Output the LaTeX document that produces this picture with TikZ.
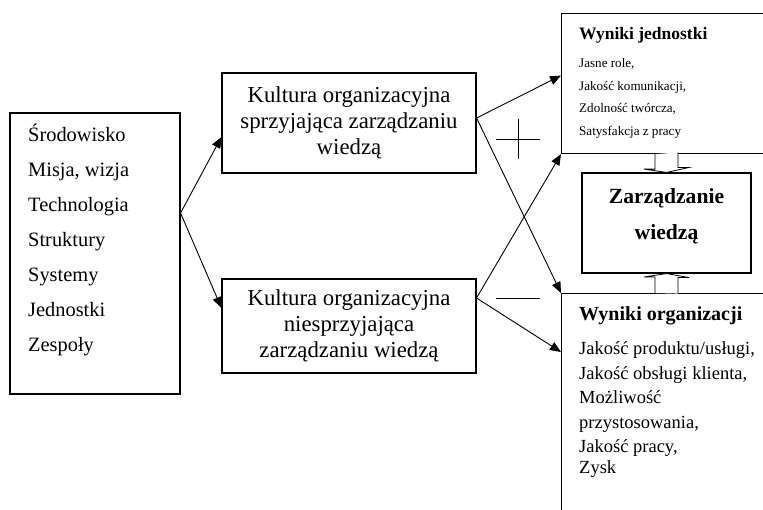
\documentclass[tikz,border=0pt]{standalone}
\usepackage{fontspec}
\setmainfont{Liberation Serif}
\usetikzlibrary{arrows.meta,calc}
\tikzstyle{box}=[draw,line width=1.1pt,inner sep=0pt]
\tikzstyle{txt}=[align=left,inner sep=0pt,anchor=north west]
\tikzstyle{link}=[draw,line width=0.9pt,-{Triangle[length=11pt,width=9pt]}]
\tikzstyle{hollow}=[draw,line width=0.8pt,fill=white]

\begin{document}
\begin{tikzpicture}[x=1pt,y=-1pt]
    \path[use as bounding box,clip] (0,0) rectangle (763,509);
    % ramki
    \node[box,minimum width=170pt,minimum height=281pt] (env) at (95,253.5) {};
    \node[txt,font=\fontsize{20.4}{35}\selectfont] (envtxt) at (28,124) {Środowisko\\Misja, wizja\\Technologia\\Struktury\\Systemy\\Jednostki\\Zespoły};
    \node[box,minimum width=254pt,minimum height=100pt,align=center,font=\fontsize{22.8}{26}\selectfont] (kpos) at (349,123) {Kultura organizacyjna\\sprzyjająca zarządzaniu\\wiedzą};
    \node[box,minimum width=254pt,minimum height=94pt,align=center,font=\fontsize{22.8}{26}\selectfont] (kneg) at (349,326) {Kultura organizacyjna\\niesprzyjająca\\zarządzaniu wiedzą};
    \node[box,anchor=north west,minimum width=260pt,minimum height=140pt] (jedn) at (561,13) {};
    \node[txt,font=\fontsize{13.1}{22.5}\selectfont] (jedntxt) at (579,27) {{\fontsize{17.5}{22}\selectfont\bfseries Wyniki jednostki}\\[6pt]Jasne role,\\Jakość komunikacji,\\Zdolność twórcza,\\Satysfakcja z pracy};
    \node[box,minimum width=169pt,minimum height=100pt,align=center,text depth=18pt,font=\fontsize{21.6}{36}\selectfont\bfseries] (zarz) at (666.5,223) {Zarządzanie\\wiedzą};
    \node[box,anchor=north west,minimum width=260pt,minimum height=260pt] (org) at (561,293) {};
    \node[txt,font=\fontsize{18.5}{24.5}\selectfont] (orgtxt) at (579,306) {{\fontsize{20}{24.5}\selectfont\bfseries Wyniki organizacji}\\[10pt]Jakość produktu/usługi,\\Jakość obsługi klienta,\\Możliwość\\przystosowania,\\Jakość pracy,\\[-4pt]Zysk};
    % strzalki
    \path[link] ([yshift=40.5pt]env.east) -- ([yshift=-14pt]kpos.west);
    \path[link] ([yshift=40.5pt]env.east) -- ([yshift=18pt]kneg.west);
    \path[link] ([yshift=5pt]kpos.east) -- ([yshift=8pt]jedn.west);
    \path[link] ([yshift=5pt]kpos.east) -- (org.north west);
    \path[link] ([yshift=28pt]kneg.east) -- (jedn.south west);
    \path[link] ([yshift=28pt]kneg.east) -- ([yshift=-59pt]org.north west);
    \path[hollow] ($(jedn.south -| zarz.north)+(-11.5,0)$) -- ++(0,15) -- ++(-11,0) -- (zarz.north) -- ++(22.5,-5) -- ++(-11,0) -- ++(0,-15);
    \path[hollow] ($(org.north -| zarz.south)+(-11.5,0)$) -- ++(0,-16) -- ++(-11,0) -- (zarz.south) -- ++(22.5,4) -- ++(-11,0) -- ++(0,16);
    % plus i minus
    \draw[line width=1pt] (496,139) -- (540,139) (518,119) -- (518,159);
    \draw[line width=1pt] (496,298) -- (540,298);
\end{tikzpicture}
\end{document}
